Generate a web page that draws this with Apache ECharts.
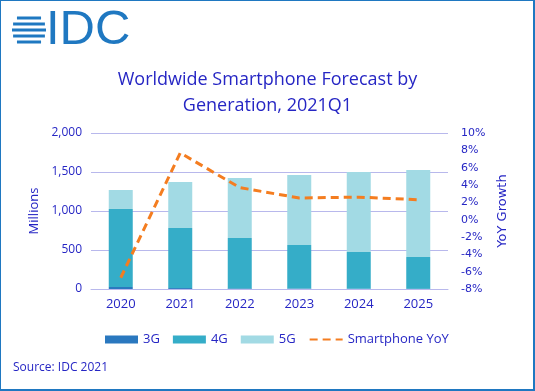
<!DOCTYPE html>
<html><head><meta charset="utf-8">
<script src="https://cdn.jsdelivr.net/npm/echarts@6/dist/echarts.min.js"></script>
<style>
html,body{margin:0;padding:0;background:#fff;}
#frame{position:absolute;left:0;top:0;width:532px;height:388px;border-left:1px solid #1f78c1;border-top:1px solid #1f78c1;border-right:2px solid #1f78c1;border-bottom:2px solid #1f78c1;}
#c{position:absolute;left:0;top:0;width:535px;height:391px;}
</style></head>
<body><div id="c"></div><div id="frame"></div>
<script>
const years = ['2020','2021','2022','2023','2024','2025'];
const g3 = [26, 12, 8, 6, 3, 2];
const g4 = [1000, 770, 646, 558, 471, 408];
const g5 = [243, 590, 769, 898, 1026, 1116];
const yoy = [-6.7, 7.7, 3.7, 2.5, 2.6, 2.3];
const leftTicks = {min: 0, max: 2000, interval: 500};
const rightTicks = {min: -8, max: 10, interval: 2};

const txt = '#2626c4';
const chart = echarts.init(document.getElementById('c'), null, {renderer: 'canvas'});

// logo stripes (decoration)
const logo = [];
const cx = 29, cy = 30, r = 17;
[-12, -6, 0, 6, 12].forEach(function (dy) {
  const half = Math.sqrt(Math.max(0, r * r - dy * dy));
  logo.push({type: 'rect', shape: {x: cx - half, y: cy + dy - 1.5, width: 2 * half, height: 3},
    style: {fill: '#1f78c1'}});
});
logo.push({type: 'text', left: 46, top: 6, style: {text: 'IDC', font: '49px "Liberation Sans", Arial, sans-serif', fill: '#1f78c1'}});

chart.setOption({
  animation: false,
  textStyle: {fontFamily: '"Open Sans", sans-serif'},
  title: {
    text: 'Worldwide Smartphone Forecast by\nGeneration, 2021Q1',
    left: 'center', top: 62,
    textStyle: {color: txt, fontSize: 18, fontWeight: 'normal', lineHeight: 26, fontFamily: '"Open Sans", sans-serif'}
  },
  graphic: logo.concat([
    {type: 'text', left: 13, top: 362, style: {text: 'Source: IDC 2021', font: '12px "Open Sans", sans-serif', fill: txt}}
  ]),
  grid: {left: 91, right: 87, top: 133, bottom: 102},
  legend: {
    left: 100, top: 328, itemGap: 13, itemWidth: 33, itemHeight: 8,
    textStyle: {color: txt, fontSize: 13, fontFamily: '"Open Sans", sans-serif'},
    data: [
      {name: '3G', icon: 'rect'}, {name: '4G', icon: 'rect'}, {name: '5G', icon: 'rect'},
      {name: 'Smartphone YoY', itemStyle: {opacity: 0}}
    ]
  },
  xAxis: {
    type: 'category', data: years,
    axisLine: {lineStyle: {color: '#b8b8ec', width: 1}},
    axisTick: {show: false},
    axisLabel: {color: txt, fontSize: 13, margin: 9}
  },
  yAxis: [
    {
      type: 'value', min: leftTicks.min, max: leftTicks.max, interval: leftTicks.interval,
      name: 'Millions', nameLocation: 'middle', nameGap: 34, nameRotate: 90,
      nameTextStyle: {color: txt, fontSize: 13},
      axisLine: {show: false}, axisTick: {show: false},
      axisLabel: {color: txt, fontSize: 12, margin: 9, formatter: function (v) { return v.toLocaleString('en-US'); }},
      splitLine: {lineStyle: {color: '#b8b8ec', width: 1}}
    },
    {
      type: 'value', min: rightTicks.min, max: rightTicks.max, interval: rightTicks.interval,
      position: 'right',
      name: 'YoY Growth', nameLocation: 'middle', nameGap: 35, nameRotate: 90,
      nameTextStyle: {color: txt, fontSize: 13, fontFamily: '"DejaVu Sans", sans-serif'},
      axisLine: {show: false}, axisTick: {show: false},
      axisLabel: {color: txt, fontSize: 11, margin: 13, fontFamily: '"DejaVu Sans", sans-serif', formatter: '{value}%'},
      splitLine: {show: false}
    }
  ],
  series: [
    {name: '3G', type: 'bar', stack: 'a', data: g3, barWidth: 24, itemStyle: {color: '#2a78bf'}},
    {name: '4G', type: 'bar', stack: 'a', data: g4, barWidth: 24, itemStyle: {color: '#35adc8'}},
    {name: '5G', type: 'bar', stack: 'a', data: g5, barWidth: 24, itemStyle: {color: '#a2dae4'}},
    {name: 'Smartphone YoY', type: 'line', yAxisIndex: 1, data: yoy, symbol: 'none',
      lineStyle: {color: '#f47d20', width: 3, type: [8, 5]}, itemStyle: {color: '#f47d20'}}
  ]
});
</script>
</body></html>
